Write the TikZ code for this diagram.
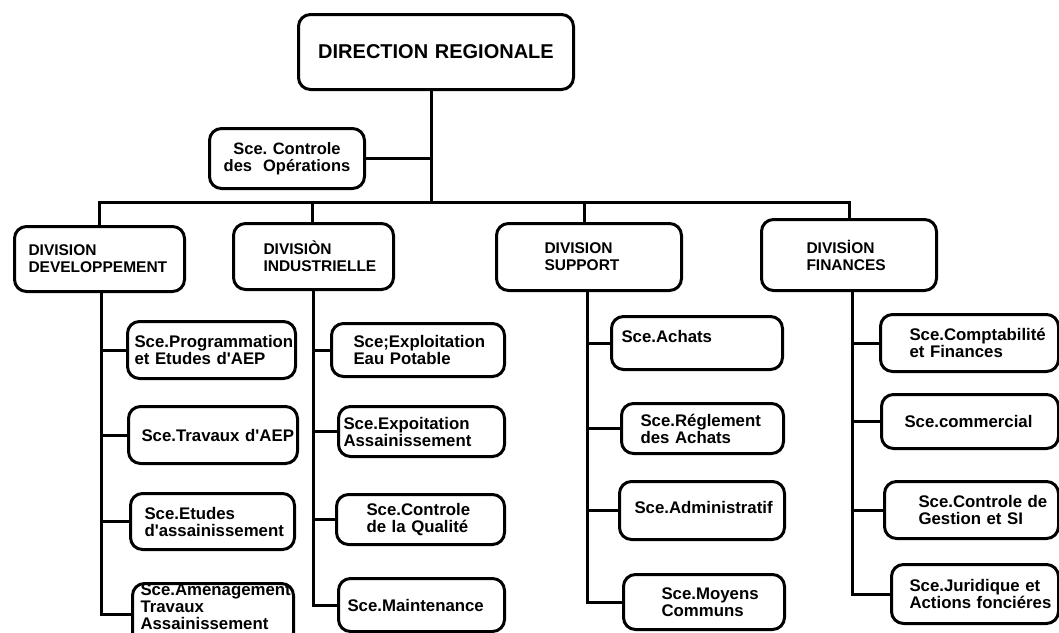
\documentclass[tikz,border=0pt]{standalone}
\usepackage{fontspec}
\setmainfont{Liberation Sans}
\newcommand{\ap}{\textquotesingle}
\begin{document}
\frenchspacing
\begin{tikzpicture}[x=1pt,y=-1pt,
  ln/.style={line width=3pt},
  bx/.style={draw, line width=3pt, rounded corners=12pt, anchor=north west, inner ysep=0pt,
    font=\bfseries\fontsize{16.8}{17}\selectfont, align=left},
  dv/.style={bx, font=\bfseries\fontsize{15.5}{17}\selectfont}]
\useasboundingbox (0,0) rectangle (1059,632);
% top
\node[bx, align=center, font=\bfseries\fontsize{20}{22}\selectfont, inner xsep=0pt,
  minimum width=275pt, minimum height=75pt, text width=275pt] (DR) at (297,13) {DIRECTION REGIONALE};
\node[bx, align=center, inner xsep=0pt, minimum width=155pt, minimum height=60pt,
  text width=155pt, font=\bfseries\fontsize{16.5}{17}\selectfont] (CO) at (208,127) {Sce. Controle\\des~ Opérations};
\coordinate (busc) at (431,202);
\coordinate (busL) at (99,202);
\coordinate (busR) at (849,202);
\coordinate (dI) at (312,202);
\coordinate (dS) at (584,202);
% divisions
\node[dv, inner xsep=14pt, text width=142pt, minimum height=65pt] (DEV) at (13,225) {DIVISION\\DEVELOPPEMENT};
\node[dv, inner xsep=30pt, text width=100pt, minimum height=66pt] (IND) at (232,222) {DIVISIÒN\\INDUSTRIELLE};
\node[dv, inner xsep=48pt, text width=89pt, minimum height=67pt] (SUP) at (495,222) {DIVISION\\SUPPORT};
\node[dv, inner xsep=45pt, text width=85pt, minimum height=71pt] (FIN) at (760,218) {DIVISİON\\FINANCES};
% DEV column
\node[bx, inner xsep=7pt, text width=154pt, minimum height=57pt] (D1) at (126,320) {Sce.Programmation\\\mbox{et Etudes d\ap AEP}};
\node[bx, inner xsep=13pt, text width=143pt, minimum height=57pt] (D2) at (127,405) {\mbox{Sce.Travaux d\ap AEP}};
\node[bx, inner xsep=14pt, text width=136pt, minimum height=56pt] (D3) at (129,492) {Sce.Etudes\\d\ap assainissement};
\node[bx, inner xsep=8pt, text width=145pt, minimum height=58pt] (D4) at (131,582) {Sce.Aménagement\\Travaux\\Assainissement\\[-2pt]\mbox{}};
% IND column
\node[bx, inner xsep=22pt, text width=129pt, minimum height=53pt] (I1) at (330,322) {Sce;Exploitation\\\mbox{Eau Potable}};
\node[bx, inner xsep=5pt, text width=156pt, minimum height=50pt] (I2) at (337,405) {Sce.Expoitation\\Assainissement};
\node[bx, inner xsep=30pt, text width=108pt, minimum height=50pt] (I3) at (335,493) {Sce.Controle\\\mbox{de la Qualité}};
\node[bx, inner xsep=9pt, text width=148pt, minimum height=53pt] (I4) at (337,577) {Sce.Maintenance};
% SUP column
\node[bx, inner xsep=10pt, text width=151pt, minimum height=53pt] (S1) at (610,315) {Sce.Achats\\[-3pt]\mbox{}};
\node[bx, inner xsep=19pt, text width=124pt, minimum height=50pt] (S2) at (620,402) {Sce.Réglement\\\mbox{des Achats}};
\node[bx, inner xsep=15pt, text width=135pt, minimum height=58pt] (S3) at (618,480) {Sce.Administratif\\[-10pt]\mbox{}};
\node[bx, inner xsep=38pt, text width=85pt, minimum height=55pt] (S4) at (622,573) {Sce.Moyens\\Communs};
% FIN column
\node[bx, inner xsep=29pt, text width=120pt, minimum height=57pt] (F1) at (879,313) {Sce.Comptabilité\\\mbox{et Finances}};
\node[bx, inner xsep=23pt, text width=131pt, minimum height=54pt] (F2) at (880,393) {Sce.commercial};
\node[bx, inner xsep=34pt, text width=106pt, minimum height=57pt] (F3) at (883,480) {\mbox{Sce.Controle de}\\\mbox{Gestion et SI}};
\node[bx, inner xsep=18pt, text width=131pt, minimum height=59pt] (F4) at (890,563) {\mbox{Sce.Juridique et}\\\mbox{Actions fonciéres}};
% column coordinates
\coordinate (cD) at (101,290);
\coordinate (cI) at (313,288);
\coordinate (cS) at (587,289);
\coordinate (cF) at (852,289);
% connectors
\draw[ln] (DR.south -| busc) -- (busc);
\draw[ln] (CO.east) -- (CO.east -| busc);
\draw[ln] (busL |- DEV.north) -- (busL) -- (busR) -- (busR |- FIN.north);
\draw[ln] (dI) -- (dI |- IND.north);
\draw[ln] (dS) -- (dS |- SUP.north);
\draw[ln] (cD) -- (cD |- D4.west) -- (D4.west);
\draw[ln] (cD |- D1.west) -- (D1.west);
\draw[ln] (cD |- D2.west) -- (D2.west);
\draw[ln] (cD |- D3.west) -- (D3.west);
\draw[ln] (cI) -- (cI |- I4.west) -- (I4.west);
\draw[ln] (cI |- I1.west) -- (I1.west);
\draw[ln] (cI |- I2.west) -- (I2.west);
\draw[ln] (cI |- I3.west) -- (I3.west);
\draw[ln] (cS) -- (cS |- S4.west) -- (S4.west);
\draw[ln] (cS |- S1.west) -- (S1.west);
\draw[ln] (cS |- S2.west) -- (S2.west);
\draw[ln] (cS |- S3.west) -- (S3.west);
\draw[ln] (cF) -- (cF |- F4.west) -- (F4.west);
\draw[ln] (cF |- F1.west) -- (F1.west);
\draw[ln] (cF |- F2.west) -- (F2.west);
\draw[ln] (cF |- F3.west) -- (F3.west);
\end{tikzpicture}
\end{document}
